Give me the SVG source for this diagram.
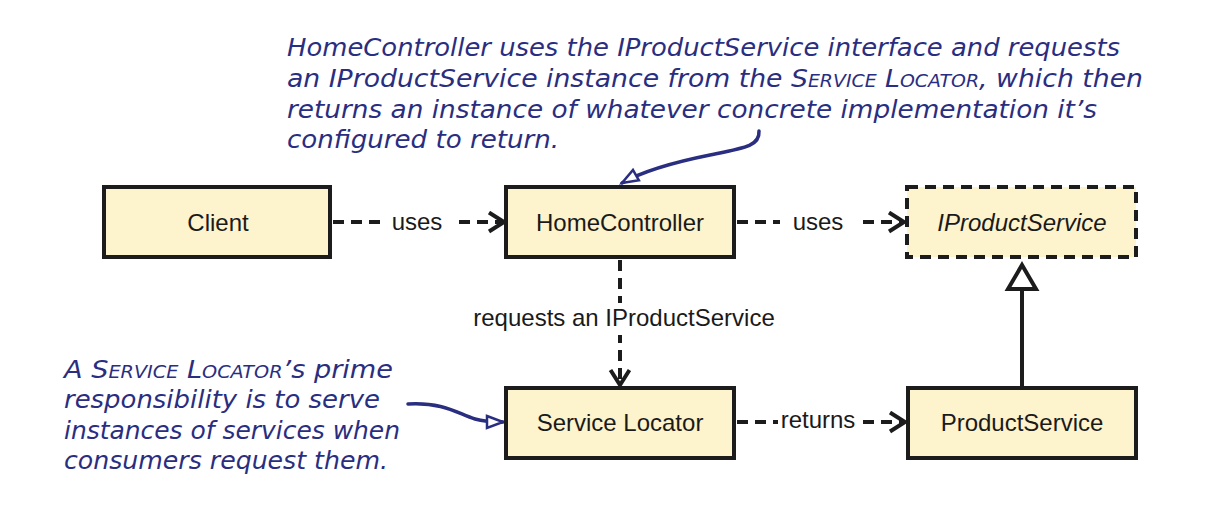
<svg xmlns="http://www.w3.org/2000/svg" width="1226" height="508" viewBox="0 0 1226 508">
<style>
.box{fill:#fdf3cc;stroke:#1c1c1c;stroke-width:4}
.iface{fill:#fdf3cc;stroke:#1c1c1c;stroke-width:4;stroke-dasharray:11 7}
.lbl{font-family:"Liberation Sans",Arial,sans-serif;font-size:24px;fill:#1a1a1a;text-anchor:middle}
.dash{fill:none;stroke:#1c1c1c;stroke-width:4;stroke-dasharray:11 7}
.solid{fill:none;stroke:#1c1c1c;stroke-width:4}
.note{font-family:"DejaVu Sans",sans-serif;font-style:italic;font-size:24px;fill:#2a2e80}
.sc{font-size:17px}
.noteline{fill:none;stroke:#2a2e80;stroke-width:3.5;stroke-linecap:round}
.bg{fill:#ffffff}
</style>
<defs>
<marker id="chev" markerUnits="userSpaceOnUse" markerWidth="22" markerHeight="24" refX="17" refY="11" orient="auto">
<path d="M2,1.5 L17,11 L2,20.5" fill="none" stroke="#1c1c1c" stroke-width="4"/>
</marker>
<marker id="tri" markerUnits="userSpaceOnUse" markerWidth="22" markerHeight="18" refX="18" refY="8" orient="auto">
<path d="M2,2 L18,8 L2,14 Z" fill="#ffffff" stroke="#2a2e80" stroke-width="2.5" stroke-linejoin="miter"/>
</marker>
</defs>

<g id="connectors">
<line class="dash" x1="333" y1="222" x2="504" y2="222" marker-end="url(#chev)"/>
<rect class="bg" x="382" y="208" width="70" height="28"/>
<text class="lbl" x="417" y="230">uses</text>

<line class="dash" x1="737" y1="222" x2="904" y2="222" marker-end="url(#chev)"/>
<rect class="bg" x="780" y="208" width="78" height="28"/>
<text class="lbl" x="818" y="230">uses</text>

<line class="dash" x1="620" y1="260" x2="620" y2="385" marker-end="url(#chev)"/>
<rect class="bg" x="466" y="303" width="316" height="32"/>
<text class="lbl" x="624" y="326">requests an IProductService</text>

<line class="dash" x1="737" y1="422" x2="905" y2="422" marker-end="url(#chev)"/>
<rect class="bg" x="778" y="406" width="80" height="28"/>
<text class="lbl" x="818" y="428">returns</text>

<line class="solid" x1="1022" y1="387" x2="1022" y2="289"/>
<path d="M1022,265 L1036,289 L1008,289 Z" fill="#ffffff" stroke="#1c1c1c" stroke-width="4" stroke-linejoin="miter"/>

<path class="noteline" d="M759,131 C760,146 745,148 710,155 C675,162 645,170 622,183" marker-end="url(#tri)"/>
<path class="noteline" d="M408,404 C445,402 458,414 475,419 C485,422 492,422 503,422" marker-end="url(#tri)"/>
</g>

<g id="client">
<rect class="box" x="104" y="187" width="226" height="70"/>
<text class="lbl" x="218" y="231">Client</text>
</g>
<g id="homecontroller">
<rect class="box" x="506" y="187" width="228" height="70"/>
<text class="lbl" x="620" y="231">HomeController</text>
</g>
<g id="iproductservice">
<rect class="iface" x="907" y="187" width="229" height="70"/>
<text class="lbl" x="1022" y="231" font-style="italic">IProductService</text>
</g>
<g id="servicelocator">
<rect class="box" x="506" y="388" width="228" height="70"/>
<text class="lbl" x="620" y="431">Service Locator</text>
</g>
<g id="productservice">
<rect class="box" x="908" y="388" width="228" height="70"/>
<text class="lbl" x="1022" y="431">ProductService</text>
</g>

<g id="note-top">
<text class="note" x="287" y="56" textLength="833" lengthAdjust="spacingAndGlyphs">HomeController uses the IProductService interface and requests</text>
<text class="note" x="287" y="87" textLength="856" lengthAdjust="spacingAndGlyphs">an IProductService instance from the S<tspan class="sc">ERVICE</tspan> L<tspan class="sc">OCATOR</tspan>, which then</text>
<text class="note" x="287" y="118" textLength="810" lengthAdjust="spacingAndGlyphs">returns an instance of whatever concrete implementation it’s</text>
<text class="note" x="287" y="148" textLength="272" lengthAdjust="spacingAndGlyphs">configured to return.</text>
</g>

<g id="note-left">
<text class="note" x="64" y="378" textLength="329" lengthAdjust="spacingAndGlyphs">A S<tspan class="sc">ERVICE</tspan> L<tspan class="sc">OCATOR</tspan>’s prime</text>
<text class="note" x="64" y="408" textLength="316" lengthAdjust="spacingAndGlyphs">responsibility is to serve</text>
<text class="note" x="64" y="439" textLength="336" lengthAdjust="spacingAndGlyphs">instances of services when</text>
<text class="note" x="64" y="469" textLength="324" lengthAdjust="spacingAndGlyphs">consumers request them.</text>
</g>
</svg>
